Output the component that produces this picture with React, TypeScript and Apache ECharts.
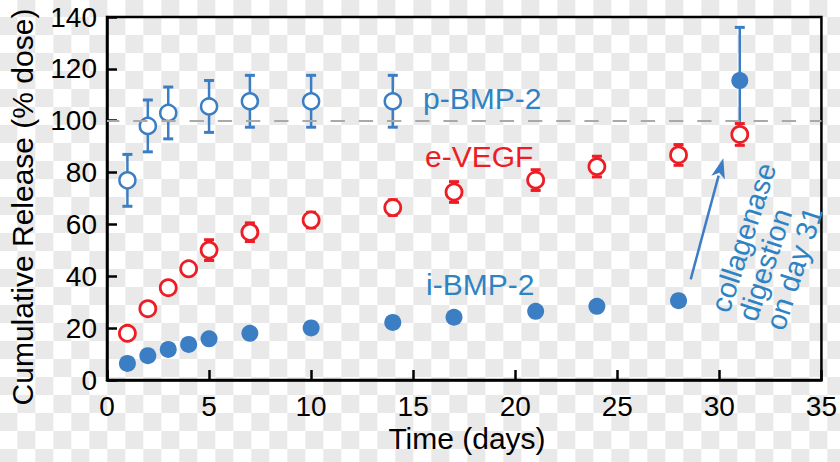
import React, { useEffect, useRef } from "react";
import * as echarts from "echarts";

const days = [1, 2, 3, 4, 5, 7, 10, 14, 17, 21, 24, 28, 31];
const pDays = [1, 2, 3, 5, 7, 10, 14];
const pBMP2 = [77, 98, 103, 105.5, 107.5, 107.5, 107.5];
const pBMP2Err = [10, 10, 10, 10, 10, 10, 10];
const eVEGF = [18, 27.5, 35.6, 42.9, 50.1, 57, 61.7, 66.5, 72.5, 77.1, 82.3, 86.8, 94.7];
const eVEGFErr = [2, 2, 2, 2, 4, 3.6, 3, 3, 4, 4, 4, 4, 4.2];
const iBMP2 = [6.4, 9.4, 11.8, 13.7, 15.9, 18, 20.1, 22.2, 24.2, 26.5, 28.4, 30.6, 115.5];
const iBMP2Err = [0, 0, 0, 0, 0, 0, 0, 0, 0, 0, 0, 0, 20.5];
const xTicks = { min: 0, max: 35, interval: 5 };
const yTicks = { min: 0, max: 140, interval: 20 };
const refLine = 100;

const BLUE = "#3c7ec4";
const BLUE_TXT = "#2f83c3";
const RED = "#ee1d25";
const FONT = "'Liberation Sans', Arial, sans-serif";

function errData(xs: number[], ys: number[], es: number[]) {
  return xs
    .map((x, i) => [x, ys[i], ys[i] - es[i], ys[i] + es[i]])
    .filter((d) => d[3] - d[2] > 0);
}

function errSeries(data: number[][], color: string, cap: number, z: number) {
  return {
    type: "custom",
    z,
    silent: true,
    data,
    encode: { x: 0, y: [2, 3] },
    renderItem: (params: any, api: any) => {
      const x = api.value(0);
      const lo = api.coord([x, api.value(2)]);
      const hi = api.coord([x, api.value(3)]);
      const st = { stroke: color, lineWidth: 2.5 };
      return {
        type: "group",
        children: [
          { type: "line", shape: { x1: lo[0], y1: lo[1], x2: hi[0], y2: hi[1] }, style: st },
          { type: "line", shape: { x1: lo[0] - cap, y1: lo[1], x2: lo[0] + cap, y2: lo[1] }, style: { ...st, lineWidth: 3 } },
          { type: "line", shape: { x1: hi[0] - cap, y1: hi[1], x2: hi[0] + cap, y2: hi[1] }, style: { ...st, lineWidth: 3 } },
        ],
      };
    },
  };
}

export default function App() {
  const ref = useRef<HTMLDivElement>(null);
  useEffect(() => {
    document.body.style.margin = "0";
    const chart = echarts.init(ref.current!, null, { renderer: "svg" });
    const axisLabel = { fontSize: 28, color: "#000", fontFamily: FONT };
    const axisLine = { show: true, lineStyle: { color: "#000", width: 2.5 } };
    const axisTick = { show: true, inside: true, length: 10, lineStyle: { color: "#000", width: 2.5 } };

    // arrow geometry
    const sx = 690.7, sy = 279.3, tx = 723.3, ty = 158.3;
    const dx = tx - sx, dy = ty - sy;
    const L = Math.hypot(dx, dy);
    const ux = dx / L, uy = dy / L;
    const hl = 20, hw = 7;
    const bx = tx - hl * ux, by = ty - hl * uy;
    const nx = -uy, ny = ux;

    chart.setOption({
      animation: false,
      backgroundColor: "transparent",
      grid: { left: 107, right: 14, top: 17, bottom: 82, show: true, borderColor: "#000", borderWidth: 2.5, backgroundColor: "transparent" },
      xAxis: {
        type: "value",
        ...xTicks,
        axisLine,
        axisTick,
        splitLine: { show: false },
        axisLabel: { ...axisLabel, margin: 12 },
      },
      yAxis: {
        type: "value",
        ...yTicks,
        axisLine,
        axisTick,
        splitLine: { show: false },
        axisLabel: { ...axisLabel, margin: 10 },
      },
      series: [
        {
          type: "line",
          data: [],
          z: 1,
          markLine: {
            silent: true,
            symbol: "none",
            label: { show: false },
            lineStyle: { color: "#a9a9a9", width: 2.2, type: [14.3, 13.9], dashOffset: 2 },
            data: [{ yAxis: refLine }],
          },
        },
        errSeries(errData(pDays, pBMP2, pBMP2Err), BLUE, 5, 2),
        errSeries(errData(days, iBMP2, iBMP2Err), BLUE, 5, 2),
        errSeries(errData(days, eVEGF, eVEGFErr), RED, 5, 4),
        {
          type: "scatter",
          z: 3,
          symbol: "circle",
          symbolSize: 16,
          itemStyle: { color: "#fff", borderColor: BLUE, borderWidth: 2.5, opacity: 1 },
          data: pDays.map((d, i) => [d, pBMP2[i]]),
        },
        {
          type: "scatter",
          z: 3,
          symbol: "circle",
          symbolSize: 17,
          itemStyle: { color: BLUE, opacity: 1 },
          data: days.map((d, i) => [d, iBMP2[i]]),
        },
        {
          type: "scatter",
          z: 5,
          symbol: "circle",
          symbolSize: 16,
          itemStyle: { color: "#fff", borderColor: RED, borderWidth: 2.8, opacity: 1 },
          data: days.map((d, i) => [d, eVEGF[i]]),
        },
      ],
      graphic: [
        {
          type: "text",
          x: 22,
          y: 207,
          rotation: Math.PI / 2,
          style: { text: "Cumulative Release (% dose)", fontSize: 30, fontFamily: FONT, fill: "#000", textAlign: "center", textVerticalAlign: "middle" },
        },
        {
          type: "text",
          x: 467,
          y: 438,
          style: { text: "Time (days)", fontSize: 30, fontFamily: FONT, fill: "#000", textAlign: "center", textVerticalAlign: "middle" },
        },
        {
          type: "text",
          x: 423,
          y: 98,
          style: { text: "p-BMP-2", fontSize: 30, fontFamily: FONT, fill: BLUE_TXT, textAlign: "left", textVerticalAlign: "middle" },
        },
        {
          type: "text",
          x: 425,
          y: 156,
          style: { text: "e-VEGF", fontSize: 30, fontFamily: FONT, fill: RED, textAlign: "left", textVerticalAlign: "middle" },
        },
        {
          type: "text",
          x: 426,
          y: 284,
          style: { text: "i-BMP-2", fontSize: 30, fontFamily: FONT, fill: BLUE_TXT, textAlign: "left", textVerticalAlign: "middle" },
        },
        {
          type: "text",
          x: 747,
          y: 320,
          rotation: (72 * Math.PI) / 180,
          style: { text: "collagenase\ndigestion\non day 31", fontSize: 29, lineHeight: 29, fontFamily: FONT, fill: BLUE_TXT, textAlign: "left", textVerticalAlign: "middle" },
        },
        {
          type: "line",
          shape: { x1: sx, y1: sy, x2: bx + 2 * ux, y2: by + 2 * uy },
          style: { stroke: BLUE, lineWidth: 2.5 },
        },
        {
          type: "polygon",
          shape: { points: [[tx, ty], [bx + hw * nx, by + hw * ny], [bx + 5 * ux, by + 5 * uy], [bx - hw * nx, by - hw * ny]] },
          style: { fill: BLUE },
        },
      ],
    });
    return () => chart.dispose();
  }, []);
  return (
    <div
      ref={ref}
      style={{
        position: "absolute",
        left: 0,
        top: 0,
        width: 840,
        height: 462,
        backgroundColor: "#fff",
        backgroundImage: "repeating-conic-gradient(#e9e9e9 0% 25%, #ffffff 0% 50%)",
        backgroundSize: "36px 36px",
        backgroundPosition: "-0.7px -1px",
      }}
    />
  );
}
